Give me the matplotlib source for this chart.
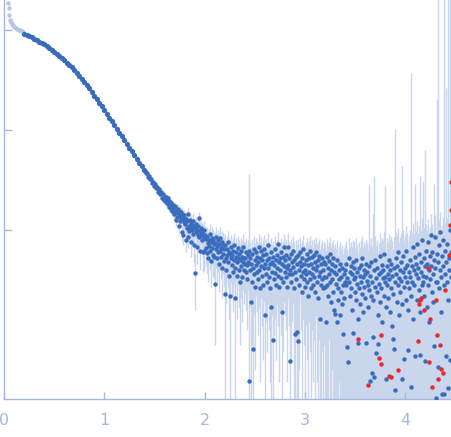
import numpy as np
import matplotlib
matplotlib.use('Agg')
import matplotlib.pyplot as plt
from matplotlib.ticker import NullLocator

# excluded low-q points (light)
q_excl = [0.043, 0.050, 0.054, 0.060, 0.070, 0.080, 0.090, 0.100, 0.115, 0.130, 0.145, 0.160, 0.175, 0.190]
i_excl = [185, 167, 140, 126, 119, 115, 111, 108, 105, 103, 101, 99.5, 98, 96]

# smooth part of the curve
q_curve = [0.200, 0.225, 0.250, 0.275, 0.300, 0.325, 0.350, 0.375, 0.400, 0.425,
           0.450, 0.475, 0.500, 0.525, 0.550, 0.575, 0.600, 0.625, 0.650, 0.675,
           0.700, 0.725, 0.750, 0.775, 0.800, 0.825, 0.850, 0.875, 0.900, 0.925,
           0.950, 0.975, 1.000, 1.025, 1.050, 1.075, 1.100, 1.125, 1.150, 1.175,
           1.200, 1.225, 1.250, 1.275, 1.300, 1.325, 1.350, 1.375, 1.400]
i_curve = [91.2, 89.1, 87.1, 85.1, 82.2, 79.4, 76.7, 74.1, 71.6, 69.2,
           66.1, 63.1, 60.3, 57.5, 55.0, 52.5, 50.1, 47.3, 44.7, 42.2,
           39.8, 37.2, 34.7, 32.4, 30.2, 28.2, 26.0, 24.0, 22.1, 20.4,
           18.6, 17.2, 15.8, 14.5, 13.2, 12.2, 11.2, 10.2, 9.33, 8.61,
           7.94, 7.24, 6.61, 6.10, 5.62, 5.13, 4.68, 4.32, 3.98]

# noisy part, q 1.41 - 2.00
q_a = [1.41, 1.42, 1.43, 1.44, 1.45, 1.46, 1.47, 1.48, 1.49, 1.50,
       1.51, 1.52, 1.53, 1.54, 1.55, 1.56, 1.57, 1.58, 1.59, 1.60,
       1.605, 1.61, 1.615, 1.62, 1.625, 1.63, 1.635, 1.64, 1.645, 1.65,
       1.655, 1.66, 1.665, 1.67, 1.675, 1.68, 1.685, 1.69, 1.695, 1.70,
       1.705, 1.71, 1.715, 1.72, 1.725, 1.73, 1.735, 1.74, 1.745, 1.75,
       1.755, 1.76, 1.765, 1.77, 1.775, 1.78, 1.785, 1.79, 1.795, 1.80,
       1.805, 1.81, 1.815, 1.82, 1.825, 1.83, 1.835, 1.84, 1.845, 1.85,
       1.855, 1.86, 1.865, 1.87, 1.875, 1.88, 1.885, 1.89, 1.895, 1.90,
       1.905, 1.91, 1.915, 1.92, 1.925, 1.93, 1.935, 1.94, 1.945, 1.95,
       1.955, 1.96, 1.965, 1.97, 1.975, 1.98, 1.985, 1.99, 1.995, 2.00]
i_a = [3.90, 3.68, 3.70, 3.42, 3.45, 3.20, 3.25, 2.98, 3.05, 2.78,
       2.90, 2.62, 2.72, 2.40, 2.58, 2.28, 2.42, 2.10, 2.30, 1.98,
       2.12, 1.95, 2.15, 1.98, 2.05, 1.88, 2.10, 1.80, 1.95, 1.70,
       1.92, 1.78, 1.86, 1.62, 1.80, 1.55, 1.75, 1.68, 1.45, 1.65,
       1.52, 1.72, 1.25, 1.58, 1.35, 1.62, 1.48, 1.10, 1.55, 1.38,
       1.22, 1.50, 1.32, 0.95, 1.45, 1.28, 0.90, 1.40, 1.20, 1.30,
       1.15, 0.80, 1.30, 1.05, 1.22, 0.85, 1.45, 1.10, 0.98, 1.25,
       1.05, 1.18, 0.75, 1.12, 1.00, 1.22, 0.92, 1.08, 0.70, 0.37,
       1.05, 0.95, 1.15, 0.68, 1.00, 0.90, 1.10, 1.32, 0.85, 0.98,
       0.62, 0.92, 1.05, 0.80, 0.95, 0.60, 0.88, 1.00, 0.62, 0.86]
e_a = [0.12, 0.13, 0.12, 0.12, 0.13, 0.12, 0.13, 0.13, 0.12, 0.13,
       0.14, 0.13, 0.14, 0.14, 0.13, 0.14, 0.15, 0.14, 0.15, 0.15,
       0.15, 0.16, 0.15, 0.16, 0.16, 0.15, 0.16, 0.17, 0.16, 0.17,
       0.16, 0.17, 0.17, 0.16, 0.17, 0.18, 0.17, 0.17, 0.18, 0.17,
       0.18, 0.17, 0.18, 0.18, 0.17, 0.18, 0.19, 0.18, 0.18, 0.19,
       0.18, 0.19, 0.19, 0.18, 0.19, 0.19, 0.20, 0.19, 0.19, 0.20,
       0.19, 0.20, 0.19, 0.20, 0.20, 0.19, 0.20, 0.21, 0.20, 0.20,
       0.21, 0.20, 0.21, 0.20, 0.21, 0.21, 0.20, 0.21, 0.22, 0.21,
       0.21, 0.22, 0.21, 0.22, 0.21, 0.22, 0.22, 0.21, 0.22, 0.22,
       0.22, 0.21, 0.22, 0.23, 0.22, 0.22, 0.23, 0.22, 0.23, 0.22]

# q 2.005 - 2.80
q_b = [2.005, 2.01, 2.015, 2.02, 2.025, 2.03, 2.035, 2.04, 2.045, 2.05,
       2.055, 2.06, 2.065, 2.07, 2.075, 2.08, 2.085, 2.09, 2.095, 2.10,
       2.105, 2.11, 2.115, 2.12, 2.125, 2.13, 2.135, 2.14, 2.145, 2.15,
       2.155, 2.16, 2.165, 2.17, 2.175, 2.18, 2.185, 2.19, 2.195, 2.20,
       2.205, 2.21, 2.215, 2.22, 2.225, 2.23, 2.235, 2.24, 2.245, 2.25,
       2.255, 2.26, 2.265, 2.27, 2.275, 2.28, 2.285, 2.29, 2.295, 2.30,
       2.305, 2.31, 2.315, 2.32, 2.325, 2.33, 2.335, 2.34, 2.345, 2.35,
       2.355, 2.36, 2.365, 2.37, 2.375, 2.38, 2.385, 2.39, 2.395, 2.40,
       2.405, 2.41, 2.415, 2.42, 2.425, 2.43, 2.435, 2.44, 2.445, 2.45,
       2.455, 2.46, 2.465, 2.47, 2.475, 2.48, 2.485, 2.49, 2.495, 2.50,
       2.505, 2.51, 2.515, 2.52, 2.525, 2.53, 2.535, 2.54, 2.545, 2.55,
       2.555, 2.56, 2.565, 2.57, 2.575, 2.58, 2.585, 2.59, 2.595, 2.60,
       2.605, 2.61, 2.615, 2.62, 2.625, 2.63, 2.635, 2.64, 2.645, 2.65,
       2.655, 2.66, 2.665, 2.67, 2.675, 2.68, 2.685, 2.69, 2.695, 2.70,
       2.705, 2.71, 2.715, 2.72, 2.725, 2.73, 2.735, 2.74, 2.745, 2.75,
       2.755, 2.76, 2.765, 2.77, 2.775, 2.78, 2.785, 2.79, 2.795, 2.80]
i_b = [0.89, 0.66, 0.82, 0.59, 0.86, 0.74, 0.52, 0.80, 0.69, 0.92,
       0.62, 0.76, 0.49, 0.84, 0.66, 0.56, 0.79, 0.72, 0.54, 0.29,
       0.74, 0.64, 0.86, 0.52, 0.69, 0.60, 0.79, 0.46, 0.72, 0.62,
       0.84, 0.54, 0.66, 0.42, 0.76, 0.58, 0.70, 0.49, 0.64, 0.23,
       0.70, 0.52, 0.40, 0.64, 0.56, 0.75, 0.48, 0.60, 0.35, 0.58,
       0.22, 0.52, 0.68, 0.45, 0.56, 0.38, 0.62, 0.50, 0.70, 0.42,
       0.21, 0.54, 0.60, 0.35, 0.48, 0.66, 0.52, 0.40, 0.58, 0.30,
       0.50, 0.62, 0.44, 0.54, 0.34, 0.48, 0.68, 0.40, 0.52, 0.46,
       0.52, 0.38, 0.60, 0.45, 0.32, 0.56, 0.48, 0.031, 0.62, 0.40,
       0.52, 0.19, 0.46, 0.30, 0.58, 0.065, 0.42, 0.64, 0.36, 0.50,
       0.27, 0.45, 0.60, 0.38, 0.54, 0.32, 0.48, 0.68, 0.40, 0.26,
       0.52, 0.44, 0.62, 0.35, 0.50, 0.28, 0.56, 0.42, 0.65, 0.14,
       0.46, 0.36, 0.58, 0.30, 0.50, 0.42, 0.70, 0.34, 0.52, 0.26,
       0.46, 0.17, 0.60, 0.38, 0.48, 0.079, 0.54, 0.32, 0.45, 0.64,
       0.37, 0.50, 0.28, 0.56, 0.42, 0.72, 0.35, 0.48, 0.27, 0.52,
       0.40, 0.60, 0.33, 0.15, 0.46, 0.54, 0.30, 0.44, 0.68, 0.38]
e_b = [0.21, 0.22, 0.21, 0.22, 0.22, 0.21, 0.22, 0.22, 0.21, 0.22,
       0.22, 0.21, 0.22, 0.22, 0.21, 0.22, 0.22, 0.21, 0.22, 0.22,
       0.22, 0.22, 0.21, 0.22, 0.22, 0.22, 0.21, 0.22, 0.22, 0.22,
       0.22, 0.22, 0.22, 0.21, 0.22, 0.22, 0.23, 0.22, 0.22, 0.22,
       0.22, 0.23, 0.22, 0.22, 0.23, 0.22, 0.22, 0.23, 0.22, 0.22,
       0.23, 0.22, 0.22, 0.23, 0.22, 0.23, 0.22, 0.22, 0.23, 0.22,
       0.23, 0.22, 0.23, 0.22, 0.23, 0.22, 0.23, 0.23, 0.22, 0.23,
       0.23, 0.22, 0.23, 0.23, 0.22, 0.23, 0.23, 0.22, 0.23, 0.23,
       0.23, 0.22, 0.23, 0.23, 0.22, 0.23, 0.23, 3.6, 0.23, 0.23,
       0.23, 0.23, 0.22, 0.23, 0.23, 0.23, 0.23, 0.23, 0.22, 0.23,
       0.23, 0.23, 0.24, 0.23, 0.23, 0.23, 0.24, 0.23, 0.23, 0.23,
       0.24, 0.23, 0.23, 0.24, 0.23, 0.23, 0.24, 0.23, 0.24, 0.23,
       0.23, 0.24, 0.23, 0.24, 0.23, 0.24, 0.23, 0.24, 0.24, 0.23,
       0.24, 0.23, 0.24, 0.24, 0.23, 0.24, 0.24, 0.23, 0.24, 0.24,
       0.24, 0.24, 0.23, 0.24, 0.24, 0.24, 0.24, 0.23, 0.24, 0.24,
       0.24, 0.24, 0.24, 0.25, 0.24, 0.24, 0.24, 0.25, 0.24, 0.24]

# q 2.805 - 3.40
q_c = [2.805, 2.81, 2.815, 2.82, 2.825, 2.83, 2.835, 2.84, 2.845, 2.85,
       2.855, 2.86, 2.865, 2.87, 2.875, 2.88, 2.885, 2.89, 2.895, 2.90,
       2.905, 2.91, 2.915, 2.92, 2.925, 2.93, 2.935, 2.94, 2.945, 2.95,
       2.955, 2.96, 2.965, 2.97, 2.975, 2.98, 2.985, 2.99, 2.995, 3.00,
       3.005, 3.01, 3.015, 3.02, 3.025, 3.03, 3.035, 3.04, 3.045, 3.05,
       3.055, 3.06, 3.065, 3.07, 3.075, 3.08, 3.085, 3.09, 3.095, 3.10,
       3.105, 3.11, 3.115, 3.12, 3.125, 3.13, 3.135, 3.14, 3.145, 3.15,
       3.155, 3.16, 3.165, 3.17, 3.175, 3.18, 3.185, 3.19, 3.195, 3.20,
       3.205, 3.21, 3.215, 3.22, 3.225, 3.23, 3.235, 3.24, 3.245, 3.25,
       3.255, 3.26, 3.265, 3.27, 3.275, 3.28, 3.285, 3.29, 3.295, 3.30,
       3.305, 3.31, 3.315, 3.32, 3.325, 3.33, 3.335, 3.34, 3.345, 3.35,
       3.355, 3.36, 3.365, 3.37, 3.375, 3.38, 3.385, 3.39, 3.395, 3.40]
i_c = [0.50, 0.34, 0.56, 0.42, 0.27, 0.68, 0.45, 0.36, 0.52, 0.049,
       0.40, 0.58, 0.30, 0.48, 0.36, 0.62, 0.43, 0.26, 0.50, 0.091,
       0.38, 0.54, 0.32, 0.095, 0.46, 0.078, 0.56, 0.40, 0.28, 0.48,
       0.60, 0.35, 0.44, 0.24, 0.52, 0.38, 0.64, 0.32, 0.46, 0.40,
       0.27, 0.50, 0.36, 0.58, 0.30, 0.45, 0.22, 0.52, 0.38, 0.62,
       0.32, 0.46, 0.26, 0.54, 0.36, 0.42, 0.28, 0.56, 0.34, 0.48,
       0.24, 0.40, 0.60, 0.30, 0.44, 0.21, 0.50, 0.35, 0.55, 0.13,
       0.38, 0.28, 0.46, 0.32, 0.52, 0.26, 0.40, 0.34, 0.48, 0.27,
       0.46, 0.12, 0.34, 0.54, 0.28, 0.42, 0.22, 0.49, 0.36, 0.58,
       0.30, 0.40, 0.19, 0.46, 0.32, 0.52, 0.24, 0.38, 0.16, 0.145,
       0.44, 0.29, 0.36, 0.12, 0.50, 0.26, 0.20, 0.40, 0.32, 0.14,
       0.46, 0.24, 0.34, 0.18, 0.42, 0.091, 0.28, 0.36, 0.21, 0.30]
e_c = [0.24, 0.24, 0.25, 0.24, 0.24, 0.25, 0.24, 0.25, 0.24, 0.25,
       0.25, 0.24, 0.25, 0.25, 0.24, 0.25, 0.25, 0.24, 0.25, 0.25,
       0.25, 0.25, 0.24, 0.25, 0.25, 0.25, 0.25, 0.25, 0.24, 0.25,
       0.25, 0.25, 0.26, 0.25, 0.25, 0.25, 0.26, 0.25, 0.25, 0.26,
       0.25, 0.26, 0.25, 0.26, 0.25, 0.26, 0.26, 0.25, 0.26, 0.26,
       0.26, 0.25, 0.26, 0.26, 0.26, 0.26, 0.25, 0.26, 0.26, 0.26,
       0.26, 0.26, 0.26, 0.27, 0.26, 0.26, 0.26, 0.27, 0.26, 0.26,
       0.27, 0.26, 0.27, 0.26, 0.27, 0.27, 0.26, 0.27, 0.27, 0.27,
       0.27, 0.27, 0.27, 0.28, 0.27, 0.27, 0.28, 0.27, 0.28, 0.28,
       0.28, 0.28, 0.27, 0.28, 0.28, 0.28, 0.28, 0.29, 0.28, 0.28,
       0.28, 0.29, 0.28, 0.29, 0.29, 0.28, 0.29, 0.29, 0.29, 0.29,
       0.29, 0.29, 0.30, 0.29, 0.29, 0.30, 0.29, 0.30, 0.30, 0.30]

# q 3.405 - 4.46
q_d = [3.405, 3.41, 3.415, 3.42, 3.425, 3.43, 3.435, 3.44, 3.445, 3.45,
       3.455, 3.46, 3.465, 3.47, 3.475, 3.48, 3.485, 3.49, 3.495, 3.50,
       3.505, 3.51, 3.515, 3.52, 3.525, 3.53, 3.535, 3.54, 3.545, 3.55,
       3.555, 3.56, 3.565, 3.57, 3.575, 3.58, 3.585, 3.59, 3.595, 3.60,
       3.605, 3.61, 3.615, 3.62, 3.625, 3.63, 3.635, 3.64, 3.645, 3.65,
       3.655, 3.66, 3.665, 3.67, 3.675, 3.68, 3.685, 3.69, 3.695, 3.70,
       3.705, 3.71, 3.715, 3.72, 3.725, 3.73, 3.735, 3.74, 3.745, 3.75,
       3.755, 3.76, 3.765, 3.77, 3.775, 3.78, 3.785, 3.79, 3.795, 3.80,
       3.805, 3.81, 3.815, 3.82, 3.825, 3.83, 3.835, 3.84, 3.845, 3.85,
       3.855, 3.86, 3.865, 3.87, 3.875, 3.88, 3.885, 3.89, 3.895, 3.90,
       3.905, 3.91, 3.915, 3.92, 3.925, 3.93, 3.935, 3.94, 3.945, 3.95,
       3.955, 3.96, 3.965, 3.97, 3.975, 3.98, 3.985, 3.99, 3.995, 4.00,
       4.005, 4.01, 4.015, 4.02, 4.025, 4.03, 4.035, 4.04, 4.045, 4.05,
       4.055, 4.06, 4.065, 4.07, 4.075, 4.08, 4.085, 4.09, 4.095, 4.10,
       4.105, 4.11, 4.115, 4.12, 4.125, 4.13, 4.135, 4.14, 4.145, 4.15,
       4.155, 4.16, 4.165, 4.17, 4.175, 4.18, 4.185, 4.19, 4.195, 4.20,
       4.205, 4.21, 4.215, 4.22, 4.225, 4.23, 4.235, 4.24, 4.245, 4.25,
       4.255, 4.26, 4.265, 4.27, 4.275, 4.28, 4.285, 4.29, 4.295, 4.30,
       4.305, 4.31, 4.315, 4.32, 4.325, 4.33, 4.335, 4.34, 4.345, 4.35,
       4.355, 4.36, 4.365, 4.37, 4.375, 4.38, 4.385, 4.39, 4.395, 4.40,
       4.405, 4.41, 4.415, 4.42, 4.425, 4.43, 4.435, 4.44, 4.445, 4.45,
       4.455, 4.46]
i_d = [0.40, 0.28, 0.46, 0.068, 0.33, 0.048, 0.52, 0.30, 0.38, 0.22,
       0.44, 0.26, 0.36, 0.16, 0.48, 0.093, 0.32, 0.42, 0.24, 0.34,
       0.50, 0.20, 0.38, 0.29, 0.13, 0.074, 0.42, 0.26, 0.35, 0.18,
       0.45, 0.30, 0.23, 0.52, 0.34, 0.15, 0.40, 0.27, 0.36, 0.21,
       0.46, 0.074, 0.31, 0.38, 0.17, 0.28, 0.44, 0.25, 0.031, 0.35,
       0.22, 0.48, 0.30, 0.037, 0.20, 0.085, 0.40, 0.034, 0.27, 0.50,
       0.33, 0.059, 0.24, 0.42, 0.14, 0.072, 0.36, 0.29, 0.55, 0.19,
       0.38, 0.26, 0.45, 0.12, 0.33, 0.40, 0.22, 0.58, 0.30, 0.34,
       0.17, 0.032, 0.44, 0.28, 0.36, 0.21, 0.50, 0.32, 0.15, 0.40,
       0.26, 0.46, 0.11, 0.35, 0.23, 0.081, 0.42, 0.065, 0.30, 0.025,
       0.52, 0.36, 0.19, 0.44, 0.28, 0.60, 0.33, 0.14, 0.40, 0.24,
       0.48, 0.31, 0.18, 0.032, 0.38, 0.55, 0.27, 0.051, 0.42, 0.34,
       0.20, 0.62, 0.30, 0.45, 0.16, 0.063, 0.38, 0.26, 0.50, 0.34,
       0.22, 0.027, 0.44, 0.30, 0.68, 0.13, 0.40, 0.28, 0.54, 0.055,
       0.36, 0.46, 0.20, 0.72, 0.33, 0.42, 0.25, 0.58, 0.15, 0.056,
       0.38, 0.48, 0.28, 0.80, 0.35, 0.30, 0.52, 0.22, 0.44, 0.049,
       0.62, 0.34, 0.17, 0.46, 0.28, 0.75, 0.40, 0.12, 0.55, 0.32,
       0.90, 0.44, 0.24, 0.60, 0.36, 0.19, 0.50, 0.069, 0.42, 0.85,
       0.30, 0.021, 0.58, 0.30, 0.48, 0.043, 0.70, 0.26, 0.40, 0.95,
       0.34, 0.15, 0.55, 0.023, 0.44, 0.80, 0.28, 0.023, 0.62, 0.36,
       0.48, 0.055, 0.30, 0.72, 0.20, 0.026, 0.52, 0.40, 1.00, 0.050,
       0.34, 0.60]
e_d = [0.30, 0.30, 0.31, 0.30, 0.31, 0.30, 0.32, 0.31, 0.30, 0.31,
       0.31, 0.32, 0.31, 0.32, 0.32, 0.31, 0.32, 0.33, 0.32, 0.32,
       0.33, 0.32, 0.33, 0.33, 0.32, 0.33, 0.34, 0.33, 0.33, 0.34,
       0.34, 0.33, 0.34, 0.35, 0.34, 0.34, 0.35, 0.34, 0.35, 0.35,
       0.35, 0.34, 0.35, 0.36, 0.35, 0.35, 0.36, 2.6, 0.35, 0.36,
       0.36, 0.36, 0.37, 0.36, 1.25, 0.36, 0.37, 3.4, 0.37, 0.38,
       0.37, 0.38, 0.37, 0.38, 0.38, 0.37, 0.38, 0.39, 0.38, 0.38,
       0.39, 0.38, 0.39, 0.39, 0.38, 0.40, 0.39, 0.40, 0.39, 2.4,
       0.40, 0.39, 0.40, 0.41, 0.40, 0.40, 0.41, 0.41, 0.40, 0.42,
       0.41, 0.42, 0.41, 0.42, 0.42, 0.41, 0.43, 0.42, 0.43, 10.2,
       0.43, 0.42, 0.44, 0.43, 0.44, 0.45, 0.43, 0.44, 0.45, 0.44,
       0.45, 0.46, 0.44, 4.3, 0.46, 0.45, 0.47, 0.46, 0.47, 0.46,
       0.47, 0.48, 0.47, 0.48, 0.49, 0.48, 0.49, 0.48, 0.50, 0.49,
       0.50, 37.0, 0.50, 0.51, 0.50, 0.52, 0.51, 0.52, 0.52, 2.8,
       0.50, 0.51, 0.50, 0.51, 0.50, 0.51, 0.50, 0.52, 0.51, 3.4,
       0.51, 0.52, 0.51, 0.52, 0.51, 2.8, 0.52, 0.51, 0.52, 6.2,
       0.52, 0.51, 0.52, 0.53, 0.52, 0.53, 0.52, 0.53, 0.53, 0.52,
       0.53, 0.54, 0.53, 0.54, 0.53, 0.54, 0.54, 2.8, 0.54, 0.55,
       0.55, 0.54, 0.55, 20.0, 0.55, 300.0, 0.56, 0.55, 0.56, 0.56,
       0.56, 0.57, 0.56, 0.57, 0.57, 0.56, 0.57, 300.0, 0.58, 0.57,
       0.58, 26.0, 0.58, 0.59, 0.58, 300.0, 0.59, 0.60, 0.59, 300.0,
       0.60, 0.61]

# points with negative intensity (shown by absolute value, red)
q_neg = [3.53, 3.63, 3.74, 3.76, 3.76, 3.84, 3.86, 3.93, 4.13, 4.14,
         4.15, 4.16, 4.19, 4.23, 4.24, 4.25, 4.27, 4.31, 4.32, 4.33,
         4.35, 4.36, 4.38, 4.40, 4.44, 4.45, 4.46, 4.46]
i_neg = [0.081, 0.028, 0.052, 0.046, 0.089, 0.035, 0.034, 0.040, 0.078, 0.18,
         0.20, 0.21, 0.16, 0.42, 0.048, 0.13, 0.027, 0.20, 0.089, 0.032,
         0.071, 0.041, 0.037, 0.25, 0.56, 1.12, 1.58, 3.0]

axis_color = '#a5b8e0'
blue = '#3a6cbe'
light = '#c9d6ec'

fig = plt.figure(figsize=(4.51, 4.37), dpi=100)
ax = fig.add_axes([4 / 451, 38 / 437, 447 / 451, 399 / 437])
ax.set_yscale('log')
ax.set_xlim(0, 4.457)
ax.set_ylim(0.0204, 199.5)

for q, i, e in ((q_a, i_a, e_a), (q_b, i_b, e_b), (q_c, i_c, e_c), (q_d, i_d, e_d)):
    q = np.array(q)
    i = np.array(i)
    e = np.array(e)
    low = np.where(i - e > 0, i - e, 1e-4)
    ax.vlines(q, low, i + e, color=light, linewidth=1, zorder=1)

ax.plot(q_excl, i_excl, 'o', ms=3.2, mew=0, color='#b8c6e3', zorder=2)
ax.plot(q_curve, i_curve, 'o', ms=3.8, mew=0, color=blue, zorder=3)
for q, i in ((q_a, i_a), (q_b, i_b), (q_c, i_c), (q_d, i_d)):
    ax.plot(q, i, 'o', ms=3.2, mew=0, color=blue, zorder=3)
ax.plot(q_neg, i_neg, 'o', ms=3.2, mew=0, color='#e8282a', zorder=4)

ax.set_xticks([0, 1, 2, 3, 4])
ax.set_yticks([1, 10, 100])
ax.yaxis.set_minor_locator(NullLocator())
ax.set_yticklabels([])
ax.tick_params(axis='x', direction='in', length=5, width=1, color=axis_color,
               labelcolor=axis_color, labelsize=11.5, pad=10)
ax.tick_params(axis='y', direction='in', length=6, width=1, color=axis_color)
for side in ('top', 'right'):
    ax.spines[side].set_visible(False)
for side in ('left', 'bottom'):
    ax.spines[side].set_color(axis_color)
    ax.spines[side].set_linewidth(1)

fig.savefig('out.png', dpi=100)
